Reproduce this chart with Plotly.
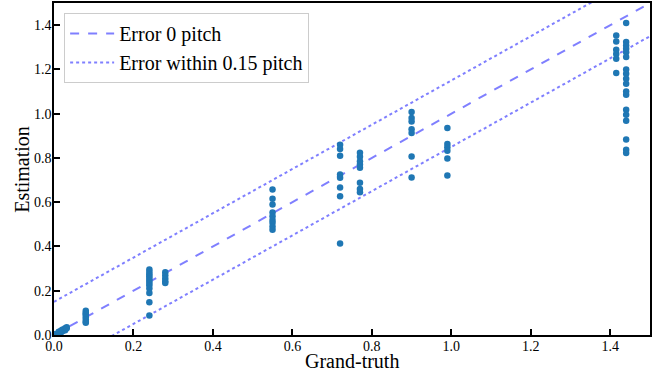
import plotly.graph_objects as go

# Ground truth groups and estimated values
gt_groups = [0.005, 0.012, 0.018, 0.022, 0.028, 0.032,
             0.08, 0.24, 0.28, 0.55, 0.72, 0.77, 0.90, 0.99, 1.415, 1.44]
est_groups = [
    [0.002, 0.005],
    [0.01, 0.015],
    [0.02, 0.012],
    [0.025, 0.018],
    [0.03, 0.022],
    [0.035, 0.03],
    [0.11, 0.10, 0.095, 0.09, 0.08, 0.07, 0.06, 0.055],
    [0.296, 0.285, 0.275, 0.265, 0.255, 0.245, 0.235, 0.225, 0.21, 0.19, 0.148, 0.088],
    [0.283, 0.27, 0.255, 0.243, 0.235],
    [0.657, 0.616, 0.59, 0.553, 0.536, 0.52, 0.507, 0.49, 0.476],
    [0.86, 0.84, 0.81, 0.725, 0.71, 0.666, 0.627, 0.413],
    [0.823, 0.805, 0.785, 0.77, 0.756, 0.688, 0.66, 0.645],
    [1.008, 0.98, 0.965, 0.93, 0.913, 0.807, 0.712],
    [0.935, 0.863, 0.848, 0.833, 0.797, 0.721],
    [1.353, 1.326, 1.289, 1.27, 1.248, 1.184],
    [1.41, 1.324, 1.308, 1.293, 1.278, 1.256, 1.199, 1.18, 1.158, 1.135,
     1.10, 1.086, 1.018, 0.995, 0.968, 0.883, 0.837, 0.822],
]
line_x = [0.0, 1.5]
tolerance = 0.15
x_ticks = [0.0, 0.2, 0.4, 0.6, 0.8, 1.0, 1.2, 1.4]
y_ticks = [0.0, 0.2, 0.4, 0.6, 0.8, 1.0, 1.2, 1.4]
x_title = "Grand-truth"
y_title = "Estimation"

xs, ys = [], []
for g, vals in zip(gt_groups, est_groups):
    for v in vals:
        xs.append(g)
        ys.append(v)

line_color = "rgba(0,0,255,0.5)"
font_family = "Liberation Serif"

fig = go.Figure()
fig.add_trace(go.Scatter(x=line_x, y=line_x, mode="lines", name="Error 0 pitch",
                         line=dict(color=line_color, width=2, dash="dash")))
fig.add_trace(go.Scatter(x=line_x, y=[v + tolerance for v in line_x], mode="lines",
                         name="Error within 0.15 pitch",
                         line=dict(color=line_color, width=2, dash="dot")))
fig.add_trace(go.Scatter(x=line_x, y=[v - tolerance for v in line_x], mode="lines",
                         showlegend=False,
                         line=dict(color=line_color, width=2, dash="dot")))
fig.add_trace(go.Scatter(x=xs, y=ys, mode="markers", showlegend=False,
                         marker=dict(color="#1f77b4", size=6.5)))

axis_common = dict(showgrid=False, zeroline=False, showline=True, linecolor="black",
                   linewidth=1.5, mirror=True, ticks="inside", ticklen=6, tickwidth=1.5,
                   tickcolor="black", tickformat=".1f", automargin=False,
                   tickfont=dict(family=font_family, size=14, color="black"))

fig.update_xaxes(range=[0, 1.5], tickvals=x_ticks, ticklabelstandoff=-3, **axis_common)
fig.update_yaxes(range=[0, 1.5], tickvals=y_ticks, ticklabelstandoff=-2, **axis_common)

fig.add_annotation(text=x_title, xref="paper", yref="paper", x=0.5, y=-0.077,
                   xanchor="center", yanchor="middle", showarrow=False,
                   font=dict(family=font_family, size=20, color="black"))
fig.add_annotation(text=y_title, xref="paper", yref="paper", x=-0.054, y=0.5,
                   xanchor="center", yanchor="middle", textangle=-90, showarrow=False,
                   font=dict(family=font_family, size=20, color="black"))

fig.update_layout(
    width=656, height=375,
    margin=dict(l=54, r=6, t=3, b=40),
    plot_bgcolor="white", paper_bgcolor="white",
    font=dict(family=font_family, color="black"),
    legend=dict(x=0.017, y=0.97, xanchor="left", yanchor="top", itemwidth=44,
                bgcolor="white", bordercolor="#cccccc", borderwidth=1,
                font=dict(family=font_family, size=20, color="black")),
)

fig.write_html("out.html", config={"displayModeBar": False},
               post_script="document.body.style.margin='0';")
